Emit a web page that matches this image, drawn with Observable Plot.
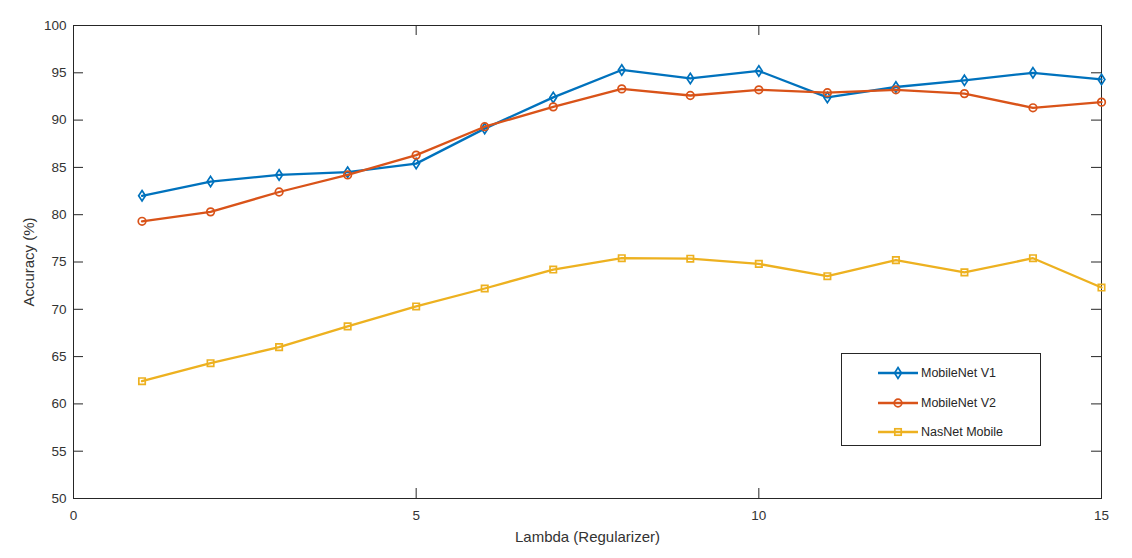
<!DOCTYPE html>
<html>
<head>
<meta charset="utf-8">
<script src="https://cdn.jsdelivr.net/npm/d3@7"></script>
<script src="https://cdn.jsdelivr.net/npm/@observablehq/plot@0.6"></script>
<style>
  body { margin: 0; background: #fff; }
  #wrap { position: relative; width: 1132px; height: 558px; font-family: "Liberation Sans", Arial, sans-serif; }
  #legend { position: absolute; left: 841px; top: 353px; width: 200px; height: 93px; border: 1px solid #262626; background: #fff; box-sizing: border-box; }
  .item { position: absolute; left: 36px; height: 20px; display: flex; align-items: center; font-size: 12.5px; color: #262626; }
  .item svg { margin-right: 3px; }
</style>
</head>
<body>
<div id="wrap"></div>
<script>
const lambda = [1,2,3,4,5,6,7,8,9,10,11,12,13,14,15];
const mobileNetV1 = [82.0,83.5,84.2,84.5,85.4,89.1,92.4,95.3,94.4,95.2,92.4,93.5,94.2,95.0,94.3];
const mobileNetV2 = [79.3,80.3,82.4,84.2,86.3,89.3,91.4,93.3,92.6,93.2,92.9,93.2,92.8,91.3,91.9];
const nasNetMobile = [62.4,64.3,66.0,68.2,70.3,72.2,74.2,75.4,75.35,74.8,73.5,75.2,73.9,75.4,72.3];
const seriesNames = ["MobileNet V1","MobileNet V2","NasNet Mobile"];
const seriesColors = ["#0072BD","#D95319","#EDB120"];
const xTicks = [0,5,10,15];
const yTicks = [50,55,60,65,70,75,80,85,90,95,100];

const tallDiamond = {
  draw(context, size) {
    const r = Math.sqrt(size / Math.PI);
    context.moveTo(0, -r * 1.3);
    context.lineTo(r * 0.85, 0);
    context.lineTo(0, r * 1.3);
    context.lineTo(-r * 0.85, 0);
    context.closePath();
  }
};
const square = {
  draw(context, size) {
    const r = Math.sqrt(size / Math.PI) * 0.8;
    context.rect(-r, -r, 2 * r, 2 * r);
  }
};
const symbols = [tallDiamond, "circle", square];

const allSeries = [mobileNetV1, mobileNetV2, nasNetMobile];
const rows = allSeries.flatMap((vals, i) => lambda.map((l, j) => ({lambda: l, acc: vals[j], series: seriesNames[i], idx: i})));

const W = 1132, H = 558, mL = 73, mR = 31, mT = 25, mB = 60;
const innerW = W - mL - mR, innerH = H - mT - mB;

const marks = [];
allSeries.forEach((vals, i) => {
  const d = rows.filter(r => r.idx === i);
  marks.push(Plot.line(d, {x: "lambda", y: "acc", stroke: seriesColors[i], strokeWidth: 2.3}));
  marks.push(Plot.dot(d, {x: "lambda", y: "acc", stroke: seriesColors[i], fill: "none", strokeWidth: 1.7, r: i === 1 ? 3.8 : 4, symbol: symbols[i]}));
});

const chart = Plot.plot({
  width: W, height: H,
  marginLeft: mL, marginRight: mR, marginTop: mT, marginBottom: mB,
  style: {fontFamily: "'Liberation Sans', Arial, sans-serif", fontSize: "13px", color: "#333", background: "#fff"},
  x: {domain: [0, 15]},
  y: {domain: [50, 100]},
  marks: [
    Plot.frame({stroke: "#262626", strokeWidth: 1}),
    Plot.tickX(xTicks, {x: d => d, stroke: "#262626", insetTop: innerH - 10}),
    Plot.tickX(xTicks, {x: d => d, stroke: "#262626", insetBottom: innerH - 10}),
    Plot.tickY(yTicks, {y: d => d, stroke: "#262626", insetRight: innerW - 10}),
    Plot.tickY(yTicks, {y: d => d, stroke: "#262626", insetLeft: innerW - 10}),
    Plot.axisX({ticks: xTicks, tickSize: 0, tickPadding: 12, fontSize: 13.5, label: "Lambda (Regularizer)", labelAnchor: "center", labelOffset: 43, labelArrow: "none"}),
    Plot.axisY({ticks: yTicks, tickSize: 0, tickPadding: 7, fontSize: 13.5, label: "Accuracy (%)", labelAnchor: "center", labelOffset: 50, labelArrow: "none"}),
    ...marks
  ]
});
chart.querySelectorAll("g[aria-label='x-axis label'] text, g[aria-label='y-axis label'] text").forEach(t => t.setAttribute("font-size", "15"));
document.getElementById("wrap").appendChild(chart);

// legend
const legend = document.createElement("div");
legend.id = "legend";
const markerSvg = (i) => {
  const c = seriesColors[i];
  let m;
  if (i === 0) m = `<path d="M20,4.5 L23.4,10 L20,15.5 L16.6,10 Z" fill="none" stroke="${c}" stroke-width="1.7"/>`;
  else if (i === 1) m = `<circle cx="20" cy="10" r="3.8" fill="none" stroke="${c}" stroke-width="1.7"/>`;
  else m = `<rect x="16.8" y="6.8" width="6.4" height="6.4" fill="none" stroke="${c}" stroke-width="1.7"/>`;
  return `<svg width="40" height="20"><line x1="0" y1="10" x2="40" y2="10" stroke="${c}" stroke-width="2.3"/>${m}</svg>`;
};
seriesNames.forEach((name, i) => {
  const it = document.createElement("div");
  it.className = "item";
  it.style.top = (9 + i * 29.7) + "px";
  it.innerHTML = markerSvg(i) + "<span>" + name + "</span>";
  legend.appendChild(it);
});
document.getElementById("wrap").appendChild(legend);
</script>
</body>
</html>
